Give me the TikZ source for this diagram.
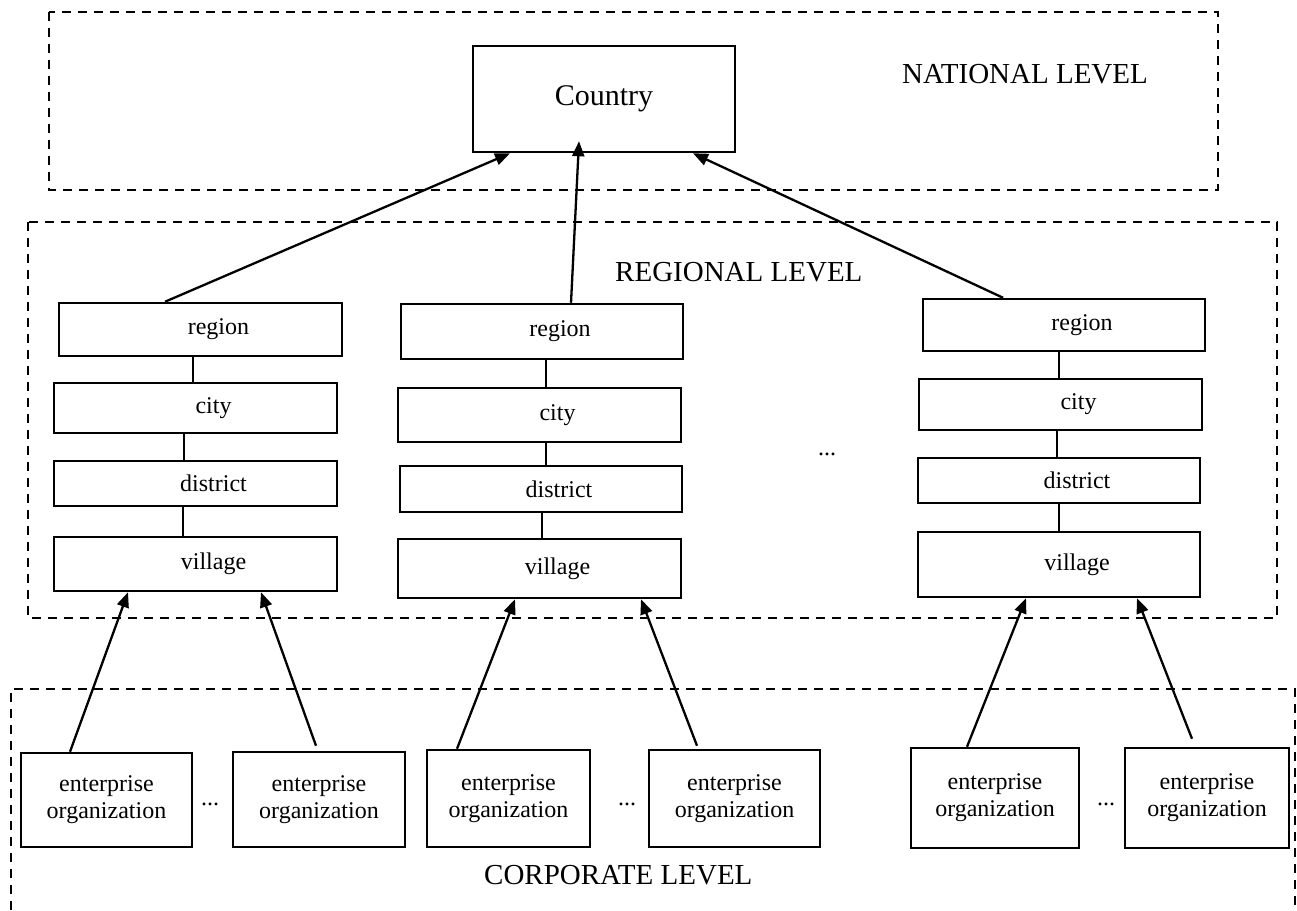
\documentclass[tikz,border=0pt]{standalone}
\usepackage{fontspec}
\setmainfont{Liberation Serif}
\usetikzlibrary{arrows.meta,calc}
\begin{document}
\begin{tikzpicture}[x=1pt,y=-1pt,
  lvl/.style={dashed,dash pattern=on 9pt off 7pt,line width=1.8pt},
  bx/.style={draw,line width=2.5pt,inner sep=0pt,font=\fontsize{24}{27}\selectfont},
  link/.style={line width=1.5pt},
  arr/.style={line width=2.3pt,-{Triangle[length=15pt,width=12pt]}},
  lbl/.style={inner sep=0pt,anchor=base west,font=\fontsize{29}{32}\selectfont},
  dots/.style={inner sep=0pt,anchor=base,font=\fontsize{24}{27}\selectfont}]
\useasboundingbox (0,0) rectangle (1297,910);
% level frames
\draw[lvl] (49,12) rectangle (1218,190);
\draw[lvl] (28,222) rectangle (1277,618);
\draw[lvl] (11,910) -- (11,689) -- (1295,689) -- (1295,910);
\node[lbl] (nat) at (902,83) {NATIONAL LEVEL};
\node[lbl] (reg) at (615,281) {REGIONAL LEVEL};
\node[lbl] (cor) at (484,884) {CORPORATE LEVEL};
% country
\node[bx,minimum width=262pt,minimum height=106pt,font=\fontsize{30}{32}\selectfont] (country) at (604,99) {Country};
% column 1
\node[bx,minimum width=283pt,minimum height=53pt] (r1) at (200.5,329.5) {\hspace*{36pt}region};
\node[bx,minimum width=283pt,minimum height=50pt] (c1) at (195.5,408) {\hspace*{36pt}city};
\node[bx,minimum width=283pt,minimum height=45pt] (d1) at (195.5,483.5) {\hspace*{36pt}district};
\node[bx,minimum width=283pt,minimum height=54pt] (v1) at (195.5,564) {\hspace*{36pt}village};
% column 2
\node[bx,minimum width=282pt,minimum height=55pt] (r2) at (542,331.5) {\hspace*{36pt}region};
\node[bx,minimum width=283pt,minimum height=54pt] (c2) at (539.5,415) {\hspace*{36pt}city};
\node[bx,minimum width=282pt,minimum height=46pt] (d2) at (541,489) {\hspace*{36pt}district};
\node[bx,minimum width=283pt,minimum height=59pt] (v2) at (539.5,568.5) {\hspace*{36pt}village};
% column 3
\node[bx,minimum width=282pt,minimum height=52pt] (r3) at (1064,325) {\hspace*{36pt}region};
\node[bx,minimum width=283pt,minimum height=51pt] (c3) at (1060.5,404.5) {\hspace*{36pt}city};
\node[bx,minimum width=282pt,minimum height=45pt] (d3) at (1059,480.5) {\hspace*{36pt}district};
\node[bx,minimum width=282pt,minimum height=65pt] (v3) at (1059,564.5) {\hspace*{36pt}village};
% enterprises
\node[bx,minimum width=171pt,minimum height=94pt,align=center] (e1) at (106.5,800) {enterprise\\organization};
\node[bx,minimum width=172pt,minimum height=95pt,align=center] (e2) at (319,799.5) {enterprise\\organization};
\node[bx,minimum width=163pt,minimum height=97pt,align=center] (e3) at (508.5,798.5) {enterprise\\organization};
\node[bx,minimum width=171pt,minimum height=97pt,align=center] (e4) at (734.5,798.5) {enterprise\\organization};
\node[bx,minimum width=168pt,minimum height=100pt,align=center] (e5) at (995,798) {enterprise\\organization};
\node[bx,minimum width=164pt,minimum height=100pt,align=center] (e6) at (1207,798) {enterprise\\organization};
% dots
\node[dots] (k1) at (210,805) {...};
\node[dots] (k2) at (627,805) {...};
\node[dots] (k3) at (1106,805) {...};
\node[dots] (k4) at (827,455) {...};
% vertical links
\foreach \a/\b/\dx in {r1/c1/-7.5,c1/d1/-11.5,d1/v1/-12.5,r2/c2/4,c2/d2/6.5,d2/v2/1,r3/c3/-5,c3/d3/-3.5,d3/v3/0}{
  \coordinate (top-\a) at ($(\a.south)+(\dx,0)$);
  \draw[link] (top-\a) -- (top-\a |- \b.north);
}
% to country
\draw[arr] ($(r1.north)+(-35.5,0)$) -- ($(country.south)+(-94,0)$);
\draw[arr] ($(r2.north)+(29,0)$) -- ($(country.south)+(-25,-12)$);
\draw[arr] ($(r3.north)+(-61,0)$) -- ($(country.south)+(89,0)$);
% enterprises to villages
\draw[arr] ($(e1.north)+(-36.5,0)$) -- ($(v1.south)+(-67.5,0)$);
\draw[arr] ($(e2.north)+(-3,-5)$) -- ($(v1.south)+(65.5,0)$);
\draw[arr] ($(e3.north)+(-51.5,0)$) -- ($(v2.south)+(-24.5,0)$);
\draw[arr] ($(e4.north)+(-37.5,-3)$) -- ($(v2.south)+(101.5,0)$);
\draw[arr] ($(e5.north)+(-28,0)$) -- ($(v3.south)+(-33,0)$);
\draw[arr] ($(e6.north)+(-15,-8)$) -- ($(v3.south)+(78,0)$);
\end{tikzpicture}
\end{document}
